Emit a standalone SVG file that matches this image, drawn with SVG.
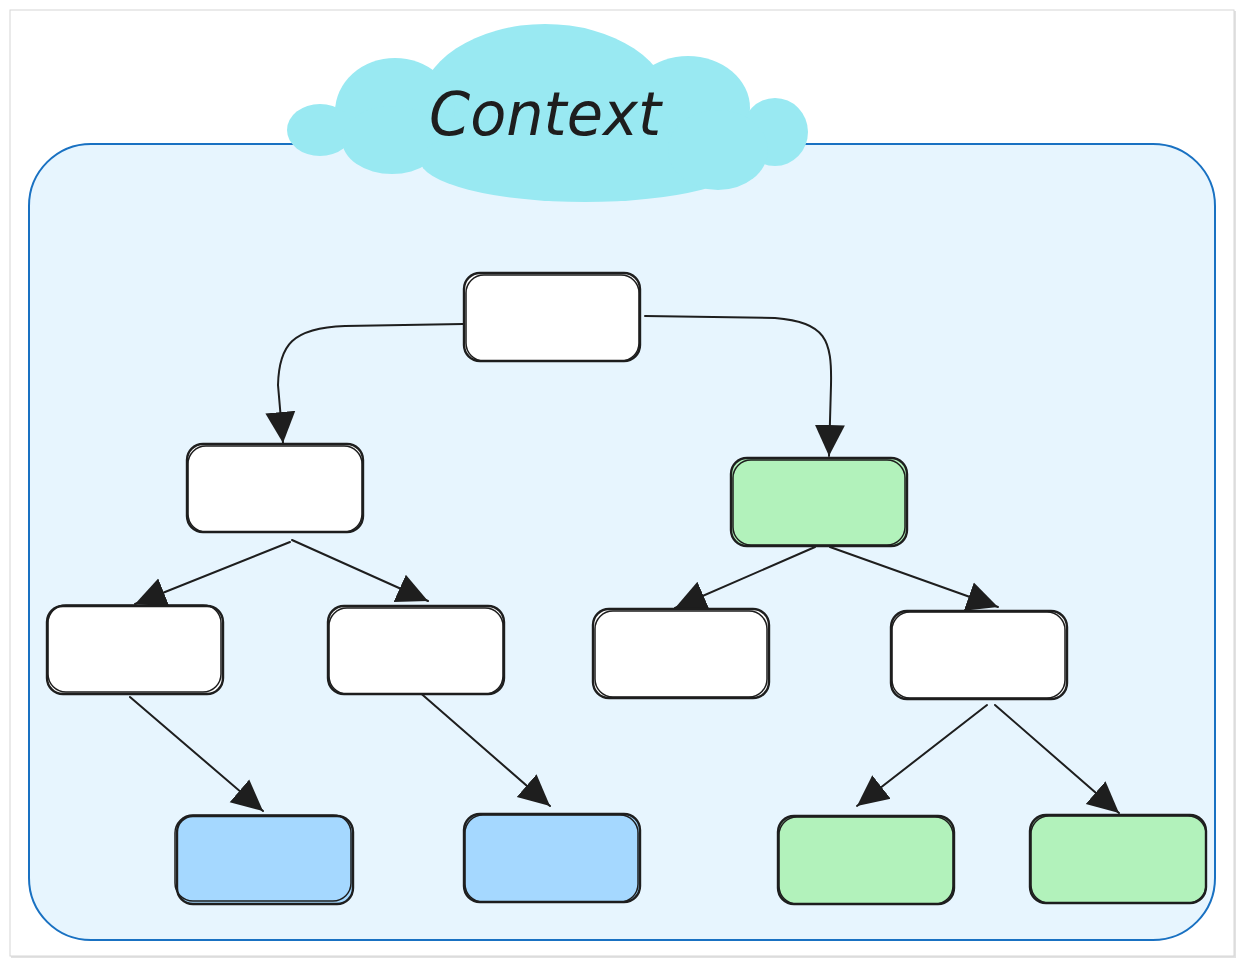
<svg xmlns="http://www.w3.org/2000/svg" width="1244" height="966" viewBox="0 0 1244 966">
  <defs>
    <style>
      .node-a { stroke: #1e1e1e; stroke-width: 2.4; }
      .node-b { fill: none; stroke: #1e1e1e; stroke-width: 1.5; }
      .white { fill: #ffffff; }
      .green { fill: #b2f2bb; }
      .blue { fill: #a5d8ff; }
      .conn { fill: none; stroke: #1e1e1e; stroke-width: 2; stroke-linecap: round; }
      .cloud { fill: #99e9f2; }
      .title { font-family: "DejaVu Sans", "Liberation Sans", sans-serif; font-style: oblique; font-size: 60px; fill: #1e1e1e; }
    </style>
    <marker id="arrow" markerUnits="userSpaceOnUse" markerWidth="32" markerHeight="32" refX="31" refY="15" orient="auto" viewBox="0 0 32 30">
      <path d="M0,0 L31,15 L0,30 Z" fill="#1e1e1e"/>
    </marker>
  </defs>

  <!-- page card -->
  <rect x="0" y="0" width="1244" height="966" fill="#ffffff"/>
  <rect x="11" y="11" width="1225" height="947" fill="#e2e2e2"/>
  <rect x="10" y="10" width="1224" height="946" fill="#ffffff" stroke="#d6d6d6" stroke-width="1"/>

  <!-- container -->
  <g id="container">
    <rect x="29" y="144" width="1186" height="796" rx="62" ry="62" fill="#e7f5fe" stroke="#1971c2" stroke-width="2"/>
  </g>

  <!-- cloud -->
  <g id="cloud">
    <ellipse class="cloud" cx="545" cy="108" rx="126" ry="84"/>
    <ellipse class="cloud" cx="395" cy="112" rx="60" ry="54"/>
    <ellipse class="cloud" cx="688" cy="108" rx="62" ry="52"/>
    <ellipse class="cloud" cx="320" cy="130" rx="33" ry="26"/>
    <ellipse class="cloud" cx="775" cy="132" rx="33" ry="34"/>
    <ellipse class="cloud" cx="392" cy="140" rx="50" ry="34"/>
    <ellipse class="cloud" cx="585" cy="160" rx="165" ry="42"/>
    <ellipse class="cloud" cx="718" cy="150" rx="50" ry="40"/>
    <text class="title" x="545" y="135" text-anchor="middle" textLength="232" lengthAdjust="spacingAndGlyphs">Context</text>
  </g>

  <!-- connectors -->
  <g id="connectors">
    <path class="conn" d="M463,324 L345,326 C292,328 279,345 278,385 L283,443" marker-end="url(#arrow)"/>
    <path class="conn" d="M645,316 L775,318 C826,322 832,340 831,385 L829,456" marker-end="url(#arrow)"/>
    <path class="conn" d="M290,542 L135,604" marker-end="url(#arrow)"/>
    <path class="conn" d="M292,540 L428,601" marker-end="url(#arrow)"/>
    <path class="conn" d="M815,547 L675,608" marker-end="url(#arrow)"/>
    <path class="conn" d="M830,547 L998,607" marker-end="url(#arrow)"/>
    <path class="conn" d="M130,697 L263,811" marker-end="url(#arrow)"/>
    <path class="conn" d="M417,690 L550,806" marker-end="url(#arrow)"/>
    <path class="conn" d="M987,705 L857,806" marker-end="url(#arrow)"/>
    <path class="conn" d="M995,705 L1119,813" marker-end="url(#arrow)"/>
  </g>

  <!-- nodes -->
  <g id="node-root">
    <rect class="node-a white" x="464" y="273" width="176" height="88" rx="16"/>
    <rect class="node-b" x="466" y="275" width="173" height="86" rx="18"/>
  </g>
  <g id="node-l1">
    <rect class="node-a white" x="187" y="444" width="176" height="88" rx="16"/>
    <rect class="node-b" x="188" y="446" width="174" height="86" rx="18"/>
  </g>
  <g id="node-r1">
    <rect class="node-a green" x="731" y="458" width="176" height="88" rx="16"/>
    <rect class="node-b" x="733" y="460" width="172" height="85" rx="18"/>
  </g>
  <g id="node-ll">
    <rect class="node-a white" x="47" y="606" width="176" height="88" rx="16"/>
    <rect class="node-b" x="48" y="605" width="173" height="87" rx="18"/>
  </g>
  <g id="node-lr">
    <rect class="node-a white" x="328" y="606" width="176" height="88" rx="16"/>
    <rect class="node-b" x="329" y="608" width="174" height="86" rx="18"/>
  </g>
  <g id="node-rl">
    <rect class="node-a white" x="593" y="609" width="176" height="89" rx="16"/>
    <rect class="node-b" x="595" y="611" width="172" height="86" rx="18"/>
  </g>
  <g id="node-rr">
    <rect class="node-a white" x="891" y="611" width="176" height="88" rx="16"/>
    <rect class="node-b" x="892" y="612" width="173" height="86" rx="18"/>
  </g>
  <g id="node-b1">
    <rect class="node-a blue" x="177" y="816" width="176" height="88" rx="16"/>
    <rect class="node-b" x="175" y="815" width="176" height="86" rx="18"/>
  </g>
  <g id="node-b2">
    <rect class="node-a blue" x="464" y="814" width="176" height="88" rx="16"/>
    <rect class="node-b" x="465" y="815" width="173" height="87" rx="18"/>
  </g>
  <g id="node-g1">
    <rect class="node-a green" x="778" y="816" width="176" height="88" rx="16"/>
    <rect class="node-b" x="779" y="817" width="174" height="87" rx="18"/>
  </g>
  <g id="node-g2">
    <rect class="node-a green" x="1030" y="815" width="176" height="88" rx="16"/>
    <rect class="node-b" x="1031" y="816" width="175" height="87" rx="18"/>
  </g>
</svg>
